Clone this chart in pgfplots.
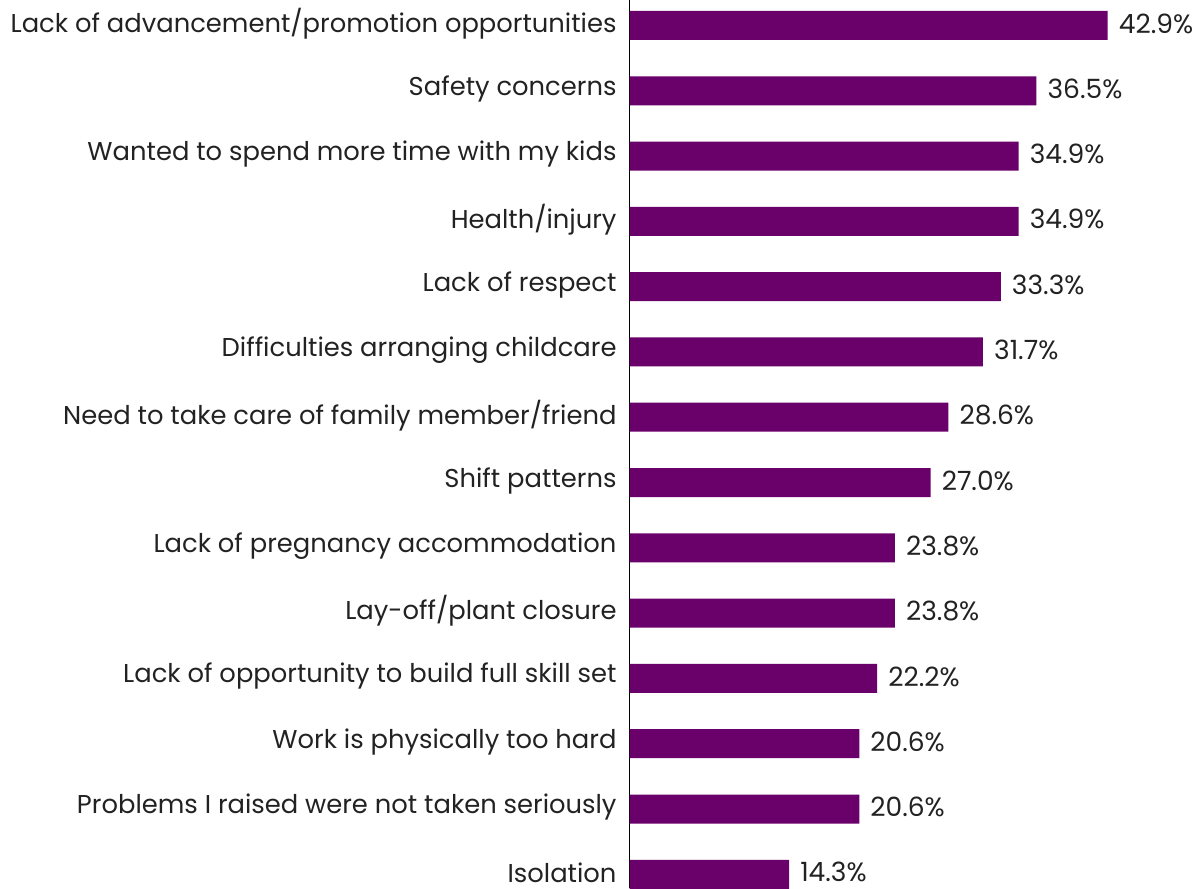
\documentclass[border=0pt]{standalone}
\usepackage{pgfplots}
\pgfplotsset{compat=1.18}
\usepackage{fontspec}
\setmainfont{Poppins}
\definecolor{barpurple}{HTML}{6A006A}
\definecolor{txt}{HTML}{222222}

\begin{document}
\begin{tikzpicture}
  \begin{axis}[
    at={(629.7pt,0pt)}, anchor=south west,
    scale only axis,
    width=568.3pt, height=888pt,
    xbar, bar width=29pt,
    y dir=reverse,
    xmin=0, xmax=51,
    ymin=-0.39, ymax=13.21,
    axis x line=none,
    axis y line*=left,
    y axis line style={-, black, line width=1pt},
    major tick length=0pt,
    ytick=data,
    yticklabels={
      Lack of advancement/promotion opportunities,
      Safety concerns,
      Wanted to spend more time with my kids,
      Health/injury,
      Lack of respect,
      Difficulties arranging childcare,
      Need to take care of family member/friend,
      Shift patterns,
      Lack of pregnancy accommodation,
      Lay-off/plant closure,
      Lack of opportunity to build full skill set,
      Work is physically too hard,
      Problems I raised were not taken seriously,
      Isolation},
    yticklabel style={font=\fontsize{25.8}{30}\selectfont, text=txt, inner sep=0pt, xshift=-13pt, yshift=2pt},
    /pgf/number format/assume math mode=true,
    nodes near coords={\pgfmathprintnumber[fixed,fixed zerofill,precision=1]{\pgfplotspointmeta}\%},
    every node near coord/.append style={font=\fontsize{26.5}{30}\selectfont, text=txt, anchor=west, inner sep=0pt, xshift=11pt, yshift=2pt},
    clip=false,
  ]
    \addplot[fill=barpurple, draw=none] coordinates {
      (42.9,0) (36.5,1) (34.9,2) (34.9,3) (33.3,4) (31.7,5) (28.6,6)
      (27.0,7) (23.8,8) (23.8,9) (22.2,10) (20.6,11) (20.6,12) (14.3,13)
    };
  \end{axis}
  \pgfresetboundingbox
  \path (0,0) rectangle (1198pt,888pt);
\end{tikzpicture}
\end{document}
